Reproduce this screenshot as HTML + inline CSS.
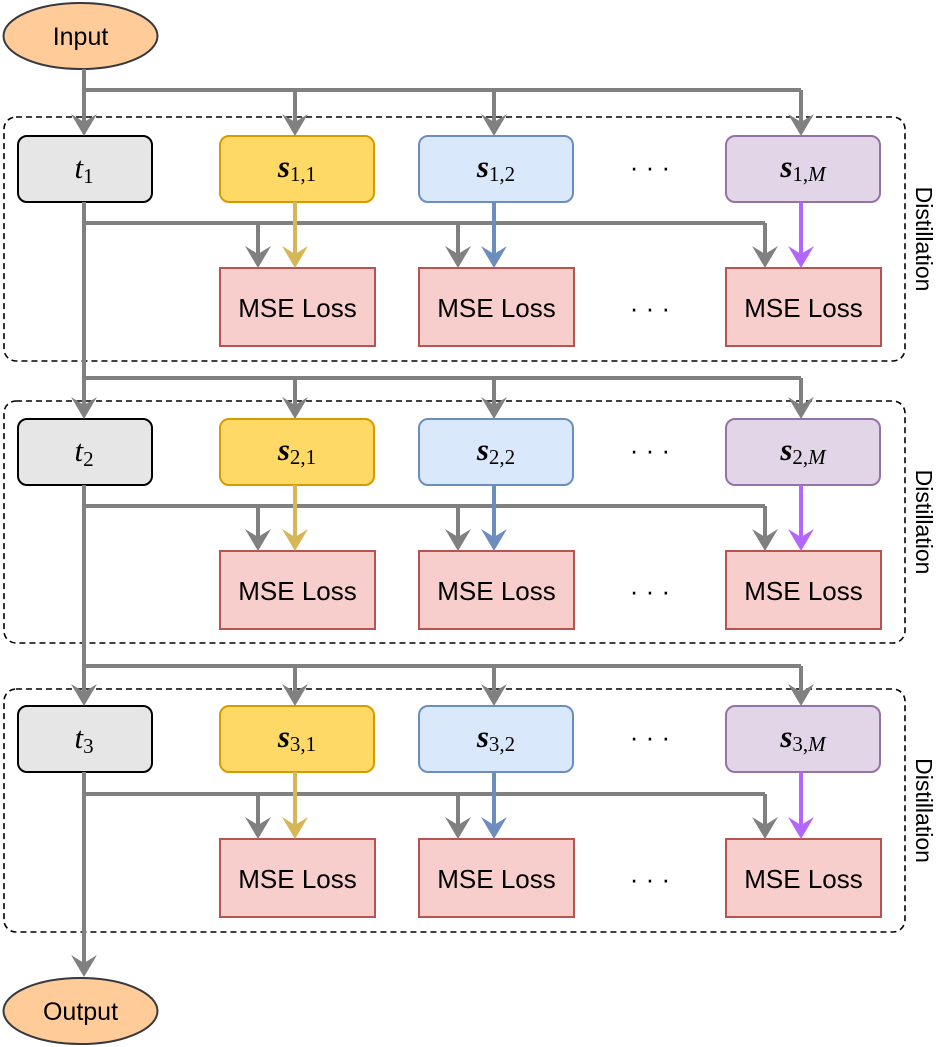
<!DOCTYPE html>
<html><head><meta charset="utf-8">
<style>
html,body{margin:0;padding:0;background:#fff;}
svg{display:block;}
.m{font-family:"Liberation Serif",serif;font-style:italic;}
.s{font-family:"Liberation Sans",sans-serif;}
</style></head>
<body>
<svg id="g" width="952" height="1047" viewBox="0 0 952 1047" xmlns="http://www.w3.org/2000/svg">
<ellipse cx="80.5" cy="36" rx="77" ry="33" fill="#ffcc99" stroke="#36393d" stroke-width="2"/>
<text x="80.5" y="45" text-anchor="middle" class="s" font-size="25">Input</text>
<ellipse cx="80.5" cy="1011" rx="77" ry="33" fill="#ffcc99" stroke="#36393d" stroke-width="2"/>
<text x="80.5" y="1020" text-anchor="middle" class="s" font-size="25">Output</text>
</svg>
<script>
var g=document.getElementById('g');var NS='http://www.w3.org/2000/svg';
function el(t,a,txt){var e=document.createElementNS(NS,t);for(var k in a)e.setAttribute(k,a[k]);if(txt!==undefined)e.innerHTML=txt;g.appendChild(e);return e;}
function arrow(x,y1,y2,col){
 el('line',{x1:x,y1:y1,x2:x,y2:y2-10,stroke:col,'stroke-width':4});
 el('polygon',{points:(x-13)+','+(y2-22)+' '+x+','+y2+' '+(x+13)+','+(y2-22)+' '+x+','+(y2-14),fill:col});
}
var blocks=[{top:90,box:117,node:136,line:223,mse:268,bot:361,i:1},{top:378,box:401,node:419,line:506,mse:551,bot:643,i:2},{top:666,box:689,node:706,line:794,mse:839,bot:932,i:3}];
var prevStart=69;
blocks.forEach(function(b){
 el('rect',{x:4,y:b.box,width:901,height:b.bot-b.box,rx:12,fill:'none',stroke:'#000','stroke-width':1.6,'stroke-dasharray':'6 4'});
 el('text',{x:0,y:0,transform:'translate(916,'+((b.box+b.bot)/2)+') rotate(90)','text-anchor':'middle',class:'s','font-size':23},'Distillation');
 el('polyline',{points:'84,'+b.top+' 801,'+b.top,fill:'none',stroke:'#808080','stroke-width':4});
 el('rect',{x:18,y:b.node,width:134,height:66,rx:9,fill:'#e6e6e6',stroke:'#000','stroke-width':2});
 el('text',{x:84,y:b.node+42,'text-anchor':'middle',class:'m','font-size':31},'t<tspan font-style="normal" font-size="21" dy="5">'+b.i+'</tspan>');
 var cols=[[220,'#ffd966','#d79b00',b.i+',1','#d6b656',295,258],[419,'#dae8fc','#6c8ebf',b.i+',2','#6c8ebf',494,458],[726,'#e1d5e7','#9673a6',b.i+',<tspan font-style="italic">M</tspan>','#b266ff',801,765]];
 el('polyline',{points:'84,'+b.line+' 765,'+b.line,fill:'none',stroke:'#808080','stroke-width':4});
 cols.forEach(function(c){
  el('rect',{x:c[0],y:b.node,width:154,height:66,rx:9,fill:c[1],stroke:c[2],'stroke-width':2});
  el('text',{x:c[0]+77,y:b.node+41,'text-anchor':'middle',class:'m','font-size':31,'font-weight':'bold'},'s<tspan font-style="normal" font-weight="normal" font-size="21" dy="4">'+c[3]+'</tspan>');
  el('rect',{x:c[0],y:b.mse,width:155,height:78,fill:'#f8cecc',stroke:'#b85450','stroke-width':2});
  el('text',{x:c[0]+77.5,y:b.mse+49,'text-anchor':'middle',class:'s','font-size':26},'MSE Loss');
  arrow(c[5],b.node+66,b.mse,c[4]);
  arrow(c[6],b.line,b.mse,'#808080');
  arrow(c[5],b.top,b.node,'#808080');
 });
 arrow(84,prevStart,b.node,'#808080');
 el('text',{x:650,y:b.node+40,'text-anchor':'middle',class:'s','font-size':26},'· · ·');
 el('text',{x:650,y:b.mse+49,'text-anchor':'middle',class:'s','font-size':26},'· · ·');
 prevStart=b.node+66;
});
arrow(84,prevStart,977,'#808080');
</script>
</body></html>
